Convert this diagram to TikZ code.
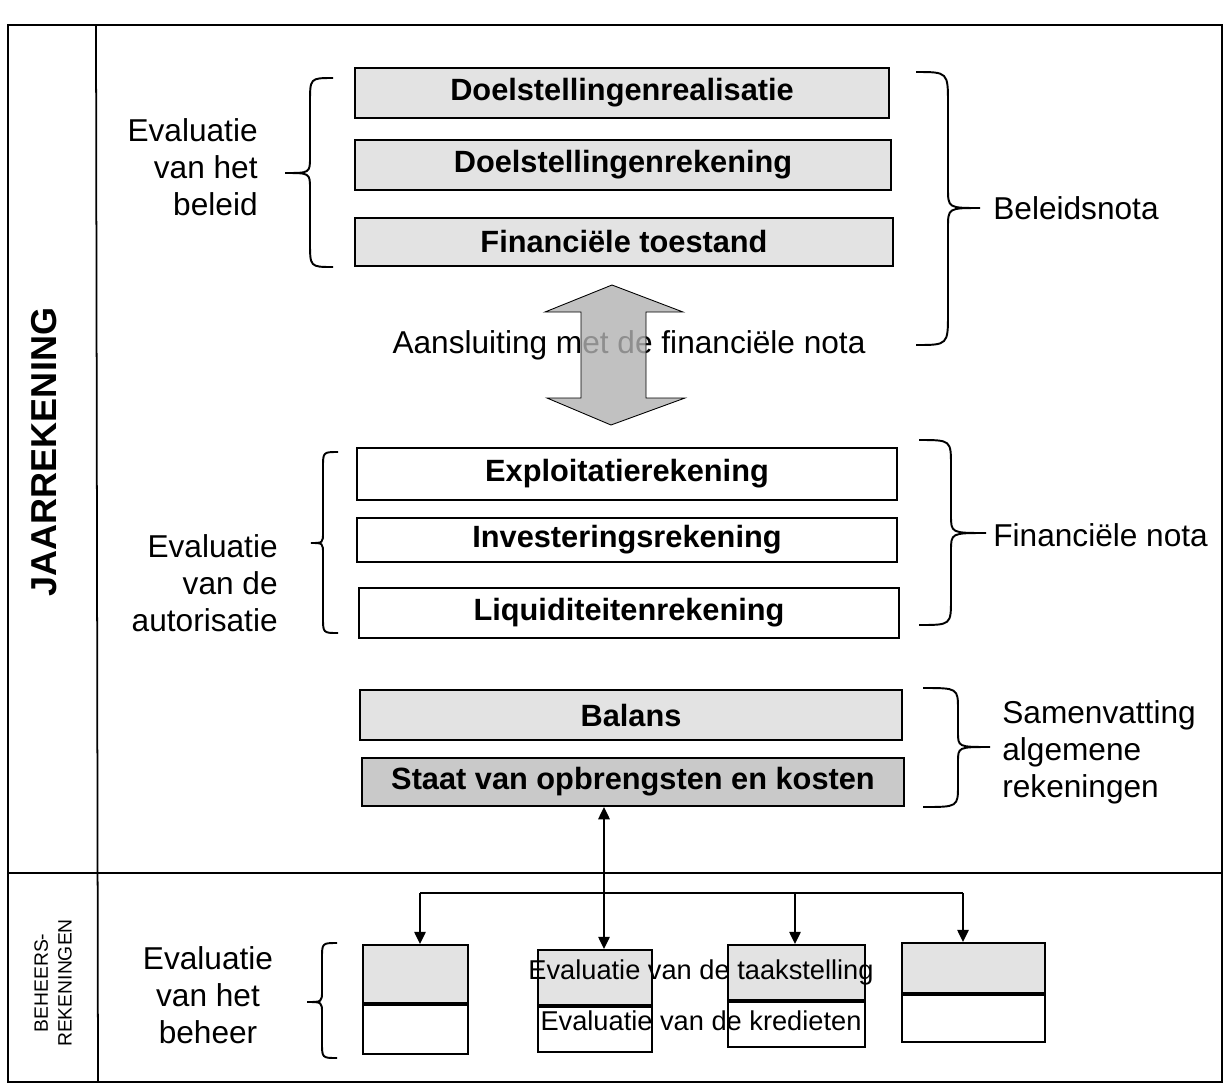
\documentclass[tikz,border=0pt]{standalone}
\usepackage{fontspec}
\setmainfont{Liberation Sans}
\usetikzlibrary{arrows.meta}
% #1 arm x, #2 vertical x, #3 tip x, #4 top y, #5 tip y, #6 bottom y, #7 corner size, #8 tip size
\newcommand\mybrace[8]{%
  \draw[bracestyle] (#1,#4) .. controls (#2,#4) .. (#2,{#4+#7}) -- (#2,{#5-#8})
    .. controls (#2,#5) .. (#3,#5) .. controls (#2,#5) .. (#2,{#5+#8})
    -- (#2,{#6-#7}) .. controls (#2,#6) .. (#1,#6);}
\begin{document}
\begin{tikzpicture}[x=0.02cm,y=-0.02cm,
  frameline/.style={line width=1pt},
  boxbase/.style={draw,line width=1.1pt,inner sep=0pt,font=\fontsize{17.5}{20}\selectfont\bfseries},
  shadebox/.style={boxbase,fill=gray!22},
  darkbox/.style={boxbase,fill=gray!42},
  whitebox/.style={boxbase,fill=white},
  lbl/.style={font=\fontsize{18}{21}\selectfont,inner sep=0pt},
  smalllbl/.style={font=\fontsize{15.5}{18}\selectfont,inner sep=0pt},
  bracestyle/.style={line width=1.1pt},
  conn/.style={line width=1.1pt},
  tip/.style={-{Triangle[length=7pt,width=6.5pt]}}
]
\useasboundingbox (0,0) rectangle (1232,1086);

% frame
\draw[frameline] (8,25) rectangle (1222,1082);
\draw[frameline] (96,25) -- (98,1082);
\draw[frameline] (8,873) -- (1222,873);

\node[rotate=90,font=\fontsize{20.5}{24}\selectfont\bfseries,inner sep=0pt] (jaar) at (44,452) {JAARREKENING};
\node[rotate=90,align=center,font=\fontsize{11}{13.5}\selectfont,inner sep=0pt] (beh) at (53,983) {BEHEERS-\\REKENINGEN};

% top group
\node[shadebox,minimum width=10.7cm,minimum height=1.0cm] (b1) at (622,93) {Doelstellingenrealisatie};
\node[shadebox,minimum width=10.74cm,minimum height=1.0cm] (b2) at (623,165) {Doelstellingenrekening};
\node[shadebox,minimum width=10.76cm,minimum height=0.96cm] (b3) at (624,242) {Financiële toestand};

\node[lbl,align=right,anchor=east] (evbel) at (258,167) {Evaluatie\\van het\\beleid};
\mybrace{333}{310}{285}{78}{173}{267}{25}{16}

\mybrace{916}{948}{980}{72}{208}{345}{32}{20}
\node[lbl,anchor=west] (belnota) at (993,208) {Beleidsnota};

% connection arrow
\node[lbl] (aans) at (629,345) {Aansluiting met de financiële nota};
\draw[fill=gray!60,fill opacity=0.8,line width=0.5pt]
  (612,285) -- (683,312) -- (646,312) -- (646,398) -- (685,398) -- (611,425)
  -- (547,398) -- (581,398) -- (581,312) -- (545,312) -- cycle;

% middle group
\node[whitebox,minimum width=10.8cm,minimum height=1.04cm] (e1) at (627,474) {Exploitatierekening};
\node[whitebox,minimum width=10.8cm,minimum height=0.88cm] (e2) at (627,540) {Investeringsrekening};
\node[whitebox,minimum width=10.8cm,minimum height=1.0cm] (e3) at (629,613) {Liquiditeitenrekening};

\node[lbl,align=right,anchor=east] (evaut) at (278,583) {Evaluatie\\van de\\autorisatie};
\mybrace{338}{323}{311}{452}{543}{633}{16}{11}

\mybrace{919}{951}{986}{440}{533}{625}{26}{18}
\node[lbl,anchor=west] (finnota) at (993,535) {Financiële nota};

% summary group
\node[shadebox,minimum width=10.84cm,minimum height=1.0cm] (bal) at (631,715) {Balans};
\node[darkbox,minimum width=10.84cm,minimum height=0.96cm] (sta) at (633,782) {Staat van opbrengsten en kosten};

\mybrace{923}{958}{990}{688}{747}{807}{22}{15}
\node[lbl,align=left,anchor=west] (samen) at (1002,752) {Samenvatting\\algemene\\rekeningen};

% bottom boxes
\node[shadebox,minimum width=2.1cm,minimum height=1.16cm] (k1t) at (415.5,974) {};
\node[whitebox,minimum width=2.1cm,minimum height=0.98cm,anchor=north] (k1b) at (k1t.south) {};
\node[shadebox,minimum width=2.28cm,minimum height=1.1cm] (k2t) at (595,977.5) {};
\node[whitebox,minimum width=2.28cm,minimum height=0.9cm,anchor=north] (k2b) at (k2t.south) {};
\node[shadebox,minimum width=2.74cm,minimum height=1.1cm] (k3t) at (796.5,972.5) {};
\node[whitebox,minimum width=2.74cm,minimum height=0.9cm,anchor=north] (k3b) at (k3t.south) {};
\node[shadebox,minimum width=2.86cm,minimum height=1.0cm] (k4t) at (973.5,968) {};
\node[whitebox,minimum width=2.86cm,minimum height=0.94cm,anchor=north] (k4b) at (k4t.south) {};

\node[smalllbl] (taak) at (701,972) {Evaluatie van de taakstelling};
\node[smalllbl] (kred) at (701,1021) {Evaluatie van de kredieten};

\node[lbl,align=center] (evbeh) at (208,995) {Evaluatie\\van het\\beheer};
\mybrace{337}{322}{307}{943}{1002}{1058}{16}{11}

% connectors
\coordinate (mid) at (604,893);
\coordinate (hL) at (420,893);
\coordinate (hM) at (795,893);
\coordinate (hR) at (963,893);
\draw[conn] (hL) -- (hR);
\draw[conn,{Triangle[length=7pt,width=6.5pt]}-{Triangle[length=7pt,width=6.5pt]}] (sta.south -| mid) -- (k2t.north -| mid);
\draw[conn,tip] (hL) -- (hL |- k1t.north);
\draw[conn,tip] (hM) -- (hM |- k3t.north);
\draw[conn,tip] (hR) -- (hR |- k4t.north);
\end{tikzpicture}
\end{document}
